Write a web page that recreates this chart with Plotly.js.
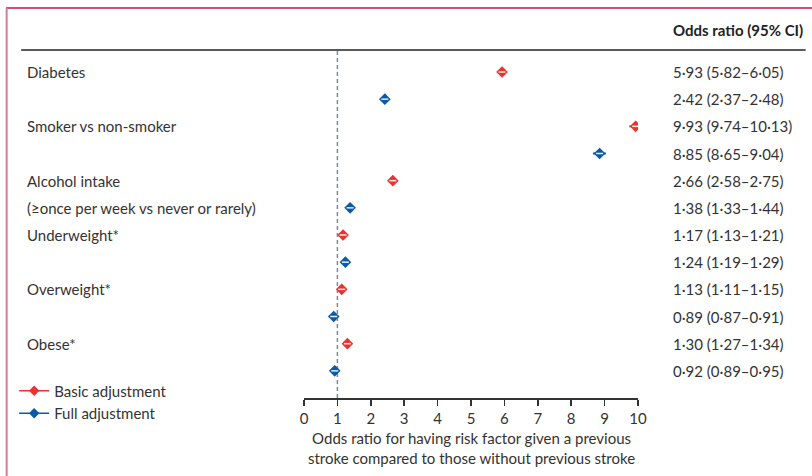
<!DOCTYPE html>
<html>
<head>
<meta charset="utf-8">
<script src="https://cdn.plot.ly/plotly-3.0.1.min.js"></script>
<style>html,body{margin:0;padding:0;background:#fff;}#chart{width:812px;height:476px;}</style>
</head>
<body>
<div id="chart"></div>
<script>
// ---- data ----
var rowLabels = ["Diabetes", "", "Smoker vs non-smoker", "", "Alcohol intake", "(≥once per week vs never or rarely)", "Underweight*", "", "Overweight*", "", "Obese*", ""];
var basicRows = [0, 2, 4, 6, 8, 10];
var basicOR = [5.93, 9.93, 2.66, 1.17, 1.13, 1.30];
var basicLo = [5.82, 9.74, 2.58, 1.13, 1.11, 1.27];
var basicHi = [6.05, 10.13, 2.75, 1.21, 1.15, 1.34];
var fullRows = [1, 3, 5, 7, 9, 11];
var fullOR = [2.42, 8.85, 1.38, 1.24, 0.89, 0.92];
var fullLo = [2.37, 8.65, 1.33, 1.19, 0.87, 0.89];
var fullHi = [2.48, 9.04, 1.44, 1.29, 0.91, 0.95];
var xTicks = [0, 1, 2, 3, 4, 5, 6, 7, 8, 9, 10];
var refValue = 1;
var seriesNames = ["Basic adjustment", "Full adjustment"];
var colHeader = "Odds ratio (95% CI)";
var xTitle = "Odds ratio for having risk factor given a previous<br>stroke compared to those without previous stroke";

var RED = "#e8332f", BLUE = "#0b5aa6", TXT = "#333333";
var FONT = "Lato, 'Open Sans', sans-serif";

function fmt(v) { return v.toFixed(2).replace(".", "\u00b7"); }
function ciText(o, l, h) { return fmt(o) + " (" + fmt(l) + "\u2013" + fmt(h) + ")"; }

function seriesTrace(rows, or, lo, hi, color) {
  return {
    type: "scatter", mode: "markers", x: or, y: rows, showlegend: false, hoverinfo: "skip",
    marker: {symbol: "diamond", size: 9, color: color},
    error_x: {type: "data", symmetric: false,
      array: or.map(function (v, i) { return hi[i] - v; }),
      arrayminus: or.map(function (v, i) { return v - lo[i]; }),
      color: color, thickness: 2, width: 0}
  };
}
function innerTrace(rows, or) {
  return {type: "scatter", mode: "markers", x: or, y: rows, showlegend: false, hoverinfo: "skip",
    marker: {symbol: "line-ew", size: 5, line: {color: "rgba(255,255,255,0.9)", width: 1.5}}};
}
function legendTrace(name, color) {
  return {type: "scatter", mode: "lines+markers", x: [null], y: [null], name: name,
    line: {color: color, width: 1.5}, marker: {symbol: "diamond", size: 8, color: color}};
}

var traces = [
  seriesTrace(basicRows, basicOR, basicLo, basicHi, RED),
  seriesTrace(fullRows, fullOR, fullLo, fullHi, BLUE),
  innerTrace(basicRows, basicOR),
  innerTrace(fullRows, fullOR),
  legendTrace(seriesNames[0], RED),
  legendTrace(seriesNames[1], BLUE)
];

// geometry helpers (paper coords): plot area x 304..638 px, y 50..398 px
var L = 304.3, W = 333.4, T = 50, H = 348;
function px(p) { return (p - L) / W; }
function py(p) { return 1 - (p - T) / H; }

var annotations = [];
rowLabels.forEach(function (t, i) {
  if (!t) return;
  annotations.push({xref: "paper", yref: "y", x: px(26), y: i, text: t, showarrow: false,
    xanchor: "left", yanchor: "middle", font: {family: FONT, size: 15, color: TXT}});
});
basicRows.forEach(function (r, i) {
  annotations.push({xref: "paper", yref: "y", x: px(671), y: r, text: ciText(basicOR[i], basicLo[i], basicHi[i]),
    showarrow: false, xanchor: "left", yanchor: "middle", font: {family: FONT, size: 15, color: TXT}});
});
fullRows.forEach(function (r, i) {
  annotations.push({xref: "paper", yref: "y", x: px(671), y: r, text: ciText(fullOR[i], fullLo[i], fullHi[i]),
    showarrow: false, xanchor: "left", yanchor: "middle", font: {family: FONT, size: 15, color: TXT}});
});
annotations.push({xref: "paper", yref: "paper", x: px(671), y: py(30), text: "<b>" + colHeader + "</b>",
  showarrow: false, xanchor: "left", yanchor: "middle", font: {family: FONT, size: 15, color: "#222"}});
annotations.push({xref: "paper", yref: "paper", x: 0.5, y: py(448), text: xTitle, showarrow: false,
  xanchor: "center", yanchor: "middle", align: "center",
  font: {family: FONT, size: 15, color: TXT}});

var shapes = [
  {type: "line", xref: "paper", yref: "paper", x0: px(7), x1: px(812), y0: py(8), y1: py(8),
    line: {color: "#c4143a", width: 1.5}},
  {type: "line", xref: "paper", yref: "paper", x0: px(7.5), x1: px(7.5), y0: py(8), y1: py(476),
    line: {color: "#dc7b93", width: 2}},
  {type: "line", xref: "paper", yref: "paper", x0: px(22), x1: px(805), y0: 1, y1: 1,
    line: {color: "#222", width: 1.3}},
  {type: "line", xref: "x", yref: "paper", x0: refValue, x1: refValue, y0: 0, y1: 1,
    line: {color: "#7d8c99", width: 1.5, dash: "4px,3px"}, layer: "below"}
];

var layout = {
  width: 812, height: 476,
  margin: {l: 304.3, r: 812 - 304.3 - 333.4, t: 50, b: 78},
  paper_bgcolor: "#fff", plot_bgcolor: "#fff",
  font: {family: FONT, size: 15, color: TXT},
  showlegend: true,
  legend: {x: px(15), y: py(374.5), xanchor: "left", yanchor: "top", bgcolor: "rgba(0,0,0,0)",
    font: {family: FONT, size: 15, color: TXT}, tracegroupgap: 0, itemwidth: 30},
  xaxis: {range: [0, 10], tickvals: xTicks, ticktext: xTicks.map(String), showgrid: false, zeroline: false,
    showline: true, linecolor: "#333", linewidth: 1.5, ticks: "outside", ticklen: 6, tickwidth: 1.5,
    tickcolor: "#333", tickfont: {family: FONT, size: 15, color: TXT}, fixedrange: true},
  yaxis: {range: [12, -0.81], showgrid: false, zeroline: false, showline: false, showticklabels: false,
    ticks: "", fixedrange: true},
  annotations: annotations,
  shapes: shapes
};

Plotly.newPlot("chart", traces, layout, {displayModeBar: false, staticPlot: true});
</script>
</body>
</html>
